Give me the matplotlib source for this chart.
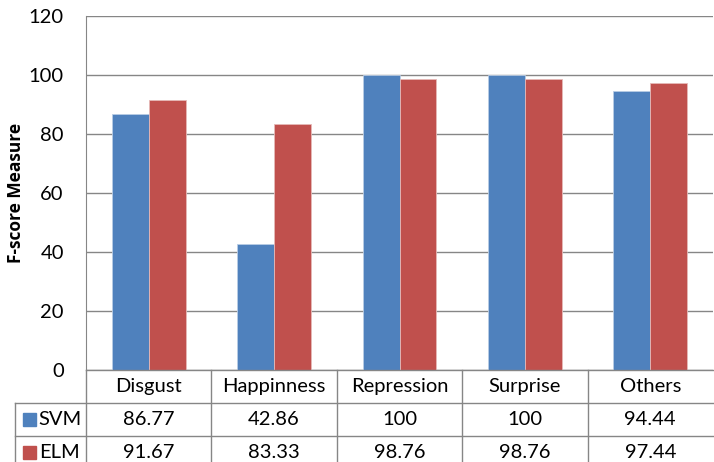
import numpy as np
import matplotlib.pyplot as plt

# 数据
categories = ['Disgust', 'Happinness', 'Repression', 'Surprise', 'Others']
svm = [86.77, 42.86, 100, 100, 94.44]
elm = [91.67, 83.33, 98.76, 98.76, 97.44]
svm_labels = ['86.77', '42.86', '100', '100', '94.44']
elm_labels = ['91.67', '83.33', '98.76', '98.76', '97.44']
yticks = [0, 20, 40, 60, 80, 100, 120]

plt.rcParams['font.family'] = ['Lato', 'DejaVu Sans']
grid_c = '#868686'
c_svm = '#4F81BD'
c_elm = '#C0504D'

W, H = 714, 462
fig = plt.figure(figsize=(W / 100, H / 100), dpi=100)
ax = fig.add_axes([86 / W, 92 / H, 627 / W, 354 / H])

x = np.arange(len(categories))
bw = 0.295
ax.bar(x - bw / 2, svm, bw, color=c_svm, edgecolor='#B9CDE5', linewidth=0.6, zorder=3)
ax.bar(x + bw / 2, elm, bw, color=c_elm, edgecolor='#E6B9B8', linewidth=0.6, zorder=3)

ax.set_xlim(-0.5, len(categories) - 0.5)
ax.set_ylim(0, 120)
ax.set_yticks(yticks)
ax.set_yticklabels([str(v) for v in yticks], fontsize=14.5)
ax.tick_params(axis='y', length=0, pad=16)
ax.set_xticks([])
ax.yaxis.grid(True, color=grid_c, linewidth=1)
ax.set_axisbelow(True)
for s in ['top', 'right', 'bottom']:
    ax.spines[s].set_visible(False)
ax.spines['left'].set_color(grid_c)
ax.set_ylabel('F-score Measure', fontsize=12.5, fontweight='bold',
              family=['Open Sans', 'DejaVu Sans'])
ax.yaxis.set_label_coords(-61 / 627, 0.5)

# 数据表
tb = fig.add_axes([86 / W, -7 / H, 627 / W, 99 / H])
tb.set_xlim(-0.5, len(categories) - 0.5)
tb.set_ylim(0, 3)
tb.axis('off')
left = -0.5 - 71 / 125.4
lk = dict(color=grid_c, linewidth=1, clip_on=False)
tb.plot([-0.5, 4.5], [3, 3], **lk)
tb.plot([left, 4.5], [2, 2], **lk)
tb.plot([left, 4.5], [1, 1], **lk)
tb.plot([left, left], [0, 2], **lk)
for b in np.arange(len(categories)) - 0.5:
    tb.plot([b, b], [0, 3], **lk)

for i, cat in enumerate(categories):
    tb.text(i, 2.5, cat, ha='center', va='center', fontsize=14.5)
    tb.text(i, 1.5, svm_labels[i], ha='center', va='center', fontsize=14.5)
    tb.text(i, 0.5, elm_labels[i], ha='center', va='center', fontsize=14.5)

for row, name, col in [(1.5, 'SVM', c_svm), (0.5, 'ELM', c_elm)]:
    tb.add_patch(plt.Rectangle((left + 0.065, row - 0.2), 0.105, 0.4,
                               color=col, clip_on=False))
    tb.text(left + 0.19, row, name, ha='left', va='center', fontsize=14.5)

plt.savefig('out.png', dpi=100)
